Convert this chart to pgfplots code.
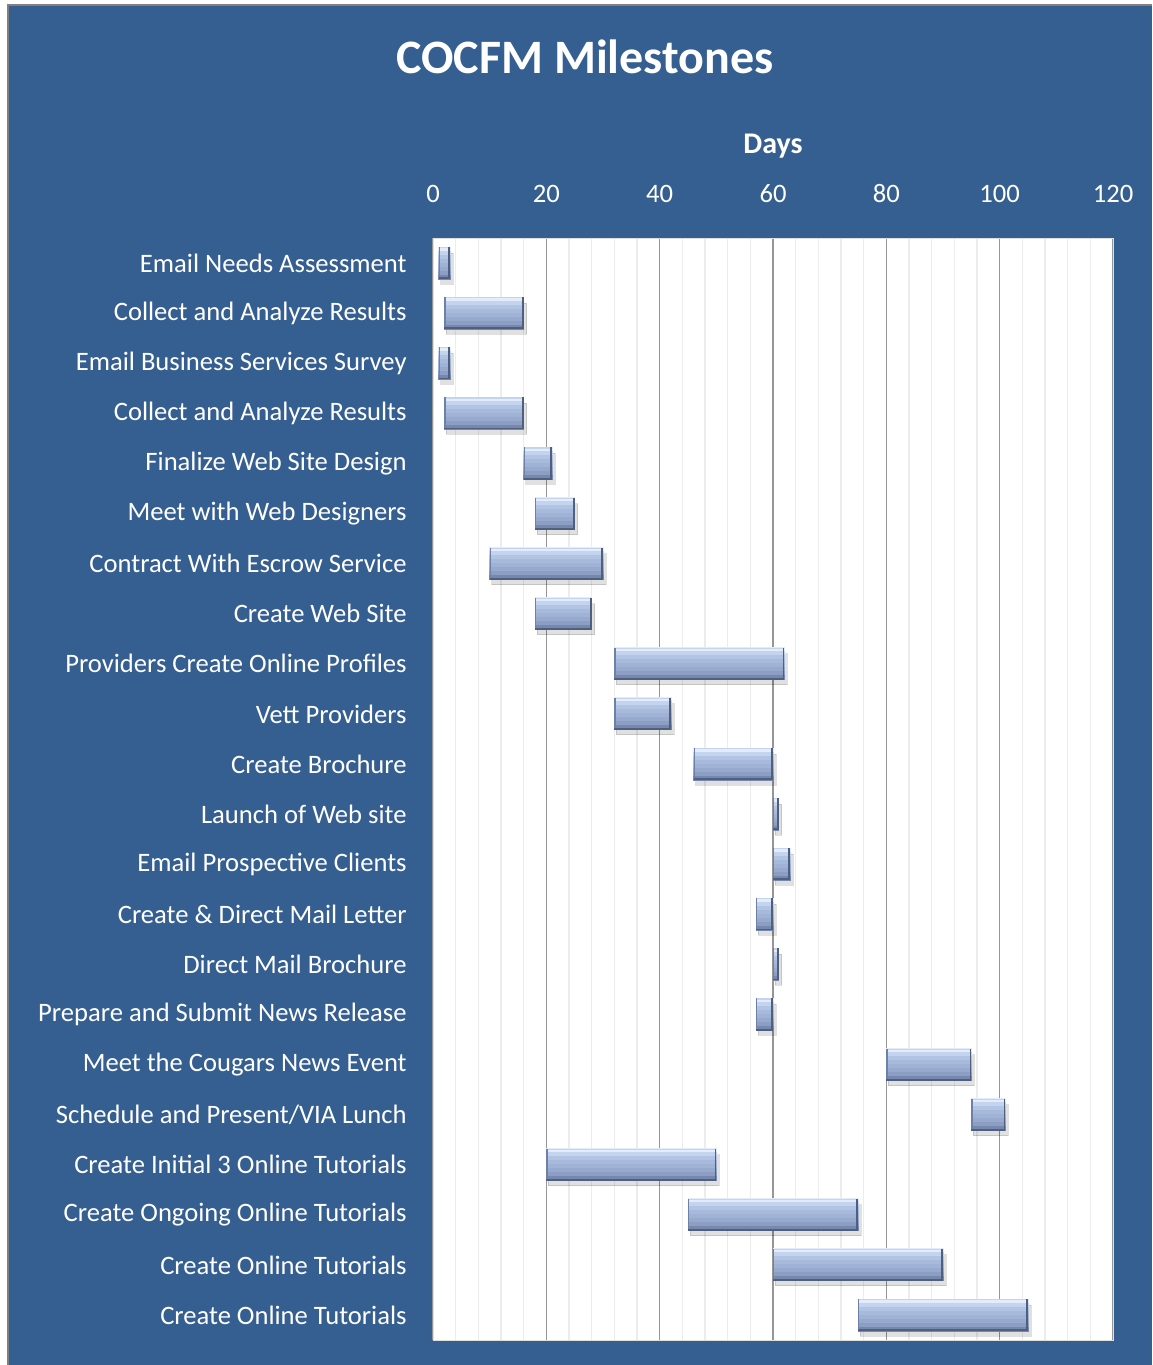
\documentclass[border=0pt]{standalone}
\usepackage{pgfplots}
\pgfplotsset{compat=1.18}
\usepackage{pgfplotstable}
\usepackage{fontspec}
\setmainfont{Carlito}
\definecolor{bg}{RGB}{54,95,145}
\definecolor{c1}{RGB}{226,236,251}
\definecolor{c2}{RGB}{196,212,238}
\definecolor{c3}{RGB}{178,196,228}
\definecolor{c4}{RGB}{168,186,220}
\definecolor{c5}{RGB}{160,178,213}
\definecolor{c6}{RGB}{151,169,205}
\definecolor{c7}{RGB}{140,158,196}
\definecolor{c8}{RGB}{118,136,174}
\definecolor{barline}{RGB}{78,95,128}
\definecolor{barside}{RGB}{110,128,165}
\definecolor{majgrid}{RGB}{150,150,150}
\definecolor{mingrid}{RGB}{236,236,236}
\pgfplotstableread{
idx start dur
0 1 2
1 2 14
2 1 2
3 2 14
4 16 5
5 18 7
6 10 20
7 18 10
8 32 30
9 32 10
10 46 14
11 60 1
12 60 3
13 57 3
14 60 1
15 57 3
16 80 15
17 95 6
18 20 30
19 45 30
20 60 30
21 75 30
}\data
\begin{document}
\begin{tikzpicture}
\fill[white] (-216.5pt,-12.5pt) rectangle (359.5pt,670pt);
\fill[bg] (-212.5pt,-12.5pt) rectangle (359.5pt,667.5pt);
\draw[gray, line width=1.2pt] (-212.5pt,-12.5pt) -- (-212.5pt,667.5pt) -- (359.5pt,667.5pt);
\begin{axis}[
  at={(0,0)}, anchor=south west,
  scale only axis, width=340pt, height=551pt,
  xmin=0, xmax=120, ymin=-0.5, ymax=21.5,
  y dir=reverse,
  axis background/.style={fill=white},
  axis line style={draw=gray!25},
  xtick={0,20,...,120},
  minor x tick num=4,
  xmajorgrids, xminorgrids,
  major grid style={draw=majgrid, line width=0.8pt},
  minor grid style={draw=mingrid, line width=0.8pt},
  xticklabel pos=top,
  tick style={draw=none},
  /pgf/number format/assume math mode=true,
  tick label style={font=\fontsize{13.3}{15}\selectfont, text=white},
  xticklabel style={anchor=base, yshift=18pt},
  yticklabel style={anchor=east, inner sep=0pt, xshift=-13pt},
  ytick={0,...,21},
  yticklabels={
    Email Needs Assessment,
    Collect and Analyze Results,
    Email Business Services Survey,
    Collect and Analyze Results,
    Finalize Web Site Design,
    Meet with Web Designers,
    Contract With Escrow Service,
    Create Web Site,
    Providers Create Online Profiles,
    Vett Providers,
    Create Brochure,
    Launch of Web site,
    Email Prospective Clients,
    Create \& Direct Mail Letter,
    Direct Mail Brochure,
    Prepare and Submit News Release,
    Meet the Cougars News Event,
    Schedule and Present/VIA Lunch,
    Create Initial 3 Online Tutorials,
    Create Ongoing Online Tutorials,
    Create Online Tutorials,
    Create Online Tutorials},
]
\addplot[
  scatter, only marks, mark=*, mark size=0pt,
  mark options={draw opacity=0, fill opacity=0},
  visualization depends on={\thisrow{dur}*340/120 \as \barlen},
  scatter/@pre marker code/.code={%
    \begin{scope}[opacity=1, draw opacity=1, fill opacity=1]
    \fill[black, opacity=0.12] (1pt,-10.5pt) rectangle (\barlen pt+1.5pt,5pt);
    \fill[c1] (0pt,6pt) rectangle (\barlen pt,8pt);
    \fill[c2] (0pt,4pt) rectangle (\barlen pt,6pt);
    \fill[c3] (0pt,2pt) rectangle (\barlen pt,4pt);
    \fill[c4] (0pt,0pt) rectangle (\barlen pt,2pt);
    \fill[c5] (0pt,-2pt) rectangle (\barlen pt,0pt);
    \fill[c6] (0pt,-4pt) rectangle (\barlen pt,-2pt);
    \fill[c7] (0pt,-6pt) rectangle (\barlen pt,-4pt);
    \fill[c8] (0pt,-8pt) rectangle (\barlen pt,-6pt);
    \draw[c2, line width=0.6pt] (0pt,7.7pt) -- (\barlen pt,7.7pt);
    \draw[barside, line width=0.6pt] (0.3pt,8pt) -- (0.3pt,-8pt);
    \draw[barline, line width=0.9pt] (0pt,-7.6pt) -- (\barlen pt-0.45pt,-7.6pt) -- (\barlen pt-0.45pt,8pt);
  },
  scatter/@post marker code/.code={\end{scope}},
] table[x=start, y=idx] {\data};
\end{axis}
\node[text=white, font=\bfseries\fontsize{24}{28}\selectfont] at (76pt,641.5pt) {COCFM Milestones};
\node[text=white, font=\bfseries\fontsize{15}{18}\selectfont] at (170pt,597pt) {Days};
\pgfresetboundingbox
\path (-216.5pt,-12.5pt) rectangle (359.5pt,670pt);
\end{tikzpicture}
\end{document}
